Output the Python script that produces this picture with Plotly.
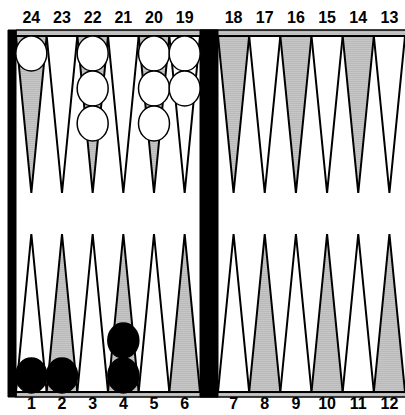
import plotly.graph_objects as go

# ---- data ----
top_points = [24, 23, 22, 21, 20, 19, 18, 17, 16, 15, 14, 13]
bottom_points = [1, 2, 3, 4, 5, 6, 7, 8, 9, 10, 11, 12]
top_labels = [str(p) for p in top_points]
bottom_labels = [str(p) for p in bottom_points]
shaded_points = [24, 22, 20, 18, 16, 14, 2, 4, 6, 8, 10, 12]
white_checker_points = [24, 22, 20, 19]
white_checker_counts = [1, 3, 3, 2]
black_checker_points = [1, 2, 4]
black_checker_counts = [1, 1, 2]

# ---- geometry (pixel-like board units) ----
W, H = 405, 415
left_x0, left_x1 = 16, 200
bar_x0, bar_x1 = 200, 218
right_x0, right_x1 = 218, 405
top_y0, top_y1 = 30, 36
bot_y0, bot_y1 = 392, 397
top_tip = 193
bot_tip = 234
cw, ch = 31, 35  # checker width/height

wl = (left_x1 - left_x0) / 6
wr = (right_x1 - right_x0) / 6


def col_of(p):
    return 24 - p if p >= 13 else p - 1


def point_span(p):
    c = col_of(p)
    if c < 6:
        x0 = left_x0 + c * wl
        return x0, x0 + wl
    x0 = right_x0 + (c - 6) * wr
    return x0, x0 + wr


def center(p):
    a, b = point_span(p)
    return (a + b) / 2


pattern = dict(shape=".", fgcolor="#000000", bgcolor="#ffffff", size=2, solidity=0.55)

fig = go.Figure()

# frame strips
for (y0, y1) in [(top_y0, top_y1), (bot_y0, bot_y1)]:
    fig.add_trace(go.Scatter(
        x=[left_x0, right_x1 + 2, right_x1 + 2, left_x0, left_x0],
        y=[y0, y0, y1, y1, y0], mode="lines", fill="toself",
        fillcolor="#b0b0b0", fillpattern=pattern,
        line=dict(color="black", width=1.5), hoverinfo="skip", showlegend=False))

# triangles
for p in top_points + bottom_points:
    a, b = point_span(p)
    m = (a + b) / 2
    if p >= 13:
        ys = [top_y1, top_tip, top_y1, top_y1]
    else:
        ys = [bot_y0, bot_tip, bot_y0, bot_y0]
    shaded = p in shaded_points
    kw = dict(fillpattern=pattern) if shaded else {}
    fig.add_trace(go.Scatter(
        x=[a, m, b, a], y=ys, mode="lines", fill="toself",
        fillcolor="#b8b8b8" if shaded else "white",
        line=dict(color="black", width=2), hoverinfo="skip",
        showlegend=False, **kw))

# left border and bar
for (x0, x1) in [(8, left_x0), (bar_x0, bar_x1)]:
    fig.add_trace(go.Scatter(
        x=[x0, x1, x1, x0, x0], y=[top_y0, top_y0, bot_y1, bot_y1, top_y0],
        mode="lines", fill="toself", fillcolor="black",
        line=dict(color="black", width=1), hoverinfo="skip", showlegend=False))

# checkers
shapes = []
for pts, cnts, color in [(white_checker_points, white_checker_counts, "white"),
                         (black_checker_points, black_checker_counts, "black")]:
    for p, n in zip(pts, cnts):
        cx = center(p)
        for k in range(n):
            if p >= 13:
                cy = top_y1 + ch / 2 + k * ch
            else:
                cy = bot_y0 - ch / 2 + 1 - k * ch
            shapes.append(dict(type="circle", xref="x", yref="y",
                               x0=cx - cw / 2, x1=cx + cw / 2,
                               y0=cy - ch / 2, y1=cy + ch / 2,
                               fillcolor=color, line=dict(color="black", width=1.5)))

# labels
fig.add_trace(go.Scatter(
    x=[center(p) for p in top_points], y=[19] * 12, mode="text", text=top_labels,
    textfont=dict(family="Liberation Sans", size=16, color="black", weight="bold"),
    hoverinfo="skip", showlegend=False))
fig.add_trace(go.Scatter(
    x=[center(p) for p in bottom_points], y=[405] * 12, mode="text", text=bottom_labels,
    textfont=dict(family="Liberation Sans", size=16, color="black", weight="bold"),
    hoverinfo="skip", showlegend=False))

fig.update_layout(
    width=W, height=H, margin=dict(l=0, r=0, t=0, b=0),
    paper_bgcolor="white", plot_bgcolor="white", shapes=shapes,
    xaxis=dict(range=[0, W], visible=False, fixedrange=True),
    yaxis=dict(range=[H, 0], visible=False, fixedrange=True),
)

fig.write_html(
    "out.html",
    config={"displayModeBar": False, "staticPlot": True},
    post_script="document.body.style.margin='0';document.body.style.overflow='hidden';",
)
